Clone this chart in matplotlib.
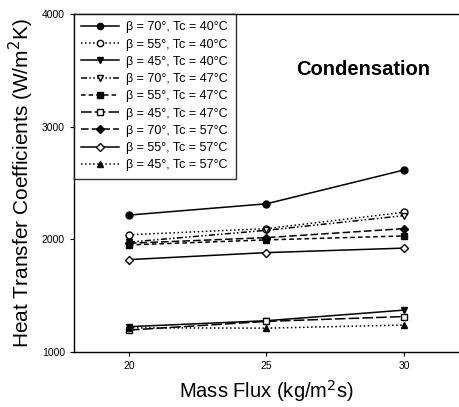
import numpy as np
import matplotlib
matplotlib.use("Agg")
import matplotlib.pyplot as plt

plt.rcParams['font.family'] = ['Liberation Sans', 'DejaVu Sans']

# 质量流量
flux = [20, 25, 30]

# 各工况的换热系数
labels = [
    "β = 70°, Tc = 40°C",
    "β = 55°, Tc = 40°C",
    "β = 45°, Tc = 40°C",
    "β = 70°, Tc = 47°C",
    "β = 55°, Tc = 47°C",
    "β = 45°, Tc = 47°C",
    "β = 70°, Tc = 57°C",
    "β = 55°, Tc = 57°C",
    "β = 45°, Tc = 57°C",
]
h70_40 = [2215, 2315, 2615]
h55_40 = [2040, 2095, 2240]
h45_40 = [1225, 1278, 1372]
h70_47 = [1975, 2080, 2210]
h55_47 = [1950, 1995, 2030]
h45_47 = [1195, 1272, 1315]
h70_57 = [1965, 2015, 2095]
h55_57 = [1820, 1882, 1922]
h45_57 = [1215, 1212, 1240]
values = [h70_40, h55_40, h45_40, h70_47, h55_47, h45_47, h70_57, h55_57, h45_57]

# 标记与线型
styles = [
    ("o", "k", "-"),
    ("o", "w", ":"),
    ("v", "k", "-"),
    ("v", "w", (0, (4, 1.5, 1, 1.5, 1, 1.5))),
    ("s", "k", (0, (3, 2))),
    ("s", "w", (0, (7, 2))),
    ("D", "k", (0, (5, 2))),
    ("D", "w", "-"),
    ("^", "k", ":"),
]

fig = plt.figure(figsize=(4.59, 4.07), dpi=100)
ax = fig.add_axes([0.161, 0.135, 0.839, 0.831])

for lab, v, (m, fc, ls) in zip(labels, values, styles):
    ms = 4.2 if m == "D" else 5.0
    ax.plot(flux, v, linestyle=ls, color="k", lw=1.1, marker=m,
            markerfacecolor=fc, markeredgecolor="k", markersize=ms,
            markeredgewidth=1.0, label=lab)

ax.set_xlim(18, 32)
ax.set_ylim(1000, 4000)
ax.set_xticks([20, 25, 30])
ax.set_yticks([1000, 2000, 3000, 4000])
ax.tick_params(labelsize=7.5, direction="out", length=3, width=0.8)
ax.spines['right'].set_visible(False)
for s in ['left', 'bottom', 'top']:
    ax.spines[s].set_linewidth(1.0)

ax.set_xlabel("Mass Flux (kg/m$^2$s)", fontsize=14.5, labelpad=5)
ax.set_ylabel("Heat Transfer Coefficients (W/m$^2$K)", fontsize=15, labelpad=4)

ax.text(0.578, 0.835, "Condensation", transform=ax.transAxes,
        fontsize=14.5, fontweight="bold", ha="left", va="center")

leg = ax.legend(loc="upper left", fontsize=9, frameon=True, fancybox=False,
                edgecolor="k", borderaxespad=0, handlelength=3.0,
                handletextpad=0.6, labelspacing=0.42, borderpad=0.6,
                markerscale=0.9)
leg.get_frame().set_linewidth(1.0)

plt.savefig("out.png", dpi=100)
